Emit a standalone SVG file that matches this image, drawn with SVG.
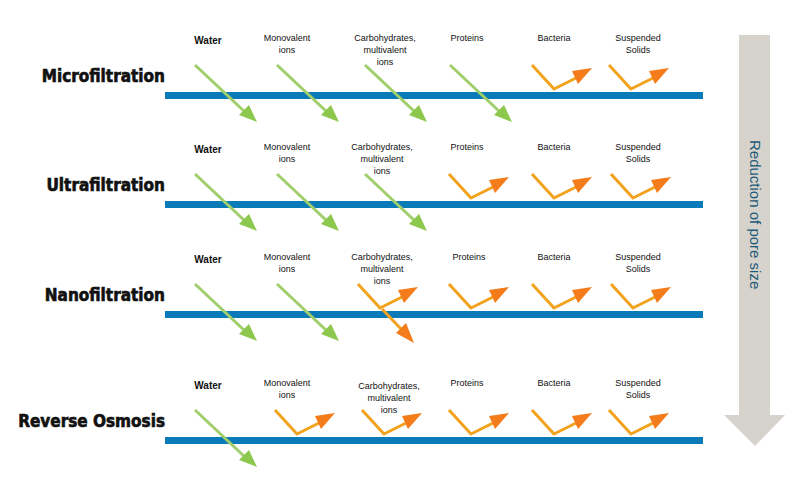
<svg xmlns="http://www.w3.org/2000/svg" width="802" height="478" viewBox="0 0 802 478">
<defs>
<style>
.lb{font-family:"Liberation Sans",Arial,sans-serif;font-size:9px;fill:#111;text-anchor:middle}
.w{font-weight:bold;font-size:10px}
.rl{font-family:"DejaVu Sans Condensed","DejaVu Sans",sans-serif;font-weight:bold;font-size:17px;fill:#111;text-anchor:end;stroke:#111;stroke-width:0.6}
.mem{fill:#0a7ab8}
.gs{stroke:#9fce6a;stroke-width:3;fill:none}
.gh{fill:#8cc84e}
.os{stroke:#f2a21c;stroke-width:3;fill:none;stroke-linejoin:round}
.oh{fill:#f57c1a}
</style>
<g id="g"><line class="gs" x1="0" y1="0" x2="50" y2="47"/><polygon class="gh" points="44,50 54,40 62,57"/></g>
<g id="o"><polyline class="os" points="0,0 22,24 46,12"/><polygon class="oh" points="40,6 60,3 46,19"/></g>
</defs>
<g id="pore-arrow"><polygon points="739,35 770,35 770,415 785,415 755,446 724,415 739,415" fill="#d6d3cc"/>
<text transform="translate(750,140) rotate(90)" font-family="Liberation Sans,Arial,sans-serif" font-size="15" fill="#1d5a78">Reduction of pore size</text></g>
<g id="row1">
<text class="rl" x="165" y="82">Microfiltration</text>
<text class="lb w" x="208" y="44">Water</text>
<text class="lb" x="287" y="41">Monovalent</text><text class="lb" x="287" y="53">ions</text>
<text class="lb" x="385" y="41">Carbohydrates,</text><text class="lb" x="385" y="53">multivalent</text><text class="lb" x="385" y="65">ions</text>
<text class="lb" x="467" y="41">Proteins</text>
<text class="lb" x="554" y="41">Bacteria</text>
<text class="lb" x="638" y="41">Suspended</text><text class="lb" x="638" y="53">Solids</text>
</g>
<g id="row2" transform="translate(0,109)">
<text class="rl" x="165" y="82">Ultrafiltration</text>
<text class="lb w" x="208" y="44">Water</text>
<text class="lb" x="287" y="41">Monovalent</text><text class="lb" x="287" y="53">ions</text>
<text class="lb" x="382" y="41">Carbohydrates,</text><text class="lb" x="382" y="53">multivalent</text><text class="lb" x="382" y="65">ions</text>
<text class="lb" x="467" y="41">Proteins</text>
<text class="lb" x="554" y="41">Bacteria</text>
<text class="lb" x="638" y="41">Suspended</text><text class="lb" x="638" y="53">Solids</text>
</g>
<g id="row3" transform="translate(0,219)">
<text class="rl" x="165" y="82">Nanofiltration</text>
<text class="lb w" x="208" y="44">Water</text>
<text class="lb" x="287" y="41">Monovalent</text><text class="lb" x="287" y="53">ions</text>
<text class="lb" x="382" y="41">Carbohydrates,</text><text class="lb" x="382" y="53">multivalent</text><text class="lb" x="382" y="65">ions</text>
<text class="lb" x="469" y="41">Proteins</text>
<text class="lb" x="554" y="41">Bacteria</text>
<text class="lb" x="638" y="41">Suspended</text><text class="lb" x="638" y="53">Solids</text>
</g>
<g id="row4" transform="translate(0,345)">
<text class="rl" x="165" y="82">Reverse Osmosis</text>
<text class="lb w" x="208" y="44">Water</text>
<text class="lb" x="287" y="41">Monovalent</text><text class="lb" x="287" y="53">ions</text>
<text class="lb" x="389" y="44">Carbohydrates,</text><text class="lb" x="389" y="56">multivalent</text><text class="lb" x="389" y="68">ions</text>
<text class="lb" x="467" y="41">Proteins</text>
<text class="lb" x="554" y="41">Bacteria</text>
<text class="lb" x="638" y="41">Suspended</text><text class="lb" x="638" y="53">Solids</text>
</g>
<g id="membranes">
<rect class="mem" x="165" y="92" width="538" height="7"/>
<rect class="mem" x="165" y="201" width="538" height="7"/>
<rect class="mem" x="165" y="311" width="538" height="7"/>
<rect class="mem" x="165" y="437" width="538" height="7"/>
</g>
<g id="connectors">
<use href="#g" x="195" y="65"/><use href="#g" x="277" y="65"/><use href="#g" x="365" y="65"/><use href="#g" x="450" y="65"/>
<use href="#o" x="532" y="65"/><use href="#o" x="609" y="65"/>
<use href="#g" x="195" y="174"/><use href="#g" x="277" y="174"/><use href="#g" x="365" y="174"/>
<use href="#o" x="449" y="174"/><use href="#o" x="532" y="174"/><use href="#o" x="611" y="174"/>
<use href="#g" x="195" y="284"/><use href="#g" x="277" y="284"/>
<use href="#o" x="358" y="284"/><use href="#o" x="449" y="284"/><use href="#o" x="532" y="284"/><use href="#o" x="611" y="284"/>
<line class="os" x1="382" y1="309" x2="402" y2="330"/><polygon class="oh" points="396,333 406,323 414,343"/>
<use href="#g" x="195" y="410"/>
<use href="#o" x="275" y="410"/><use href="#o" x="362" y="410"/><use href="#o" x="449" y="410"/><use href="#o" x="532" y="410"/><use href="#o" x="609" y="410"/>
</g>
</svg>
